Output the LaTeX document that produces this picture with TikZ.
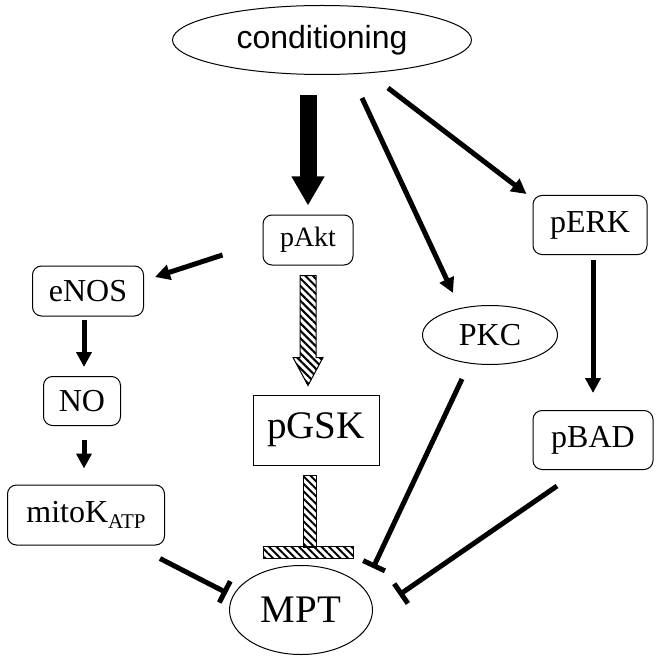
\documentclass[tikz,border=0pt]{standalone}
\usepackage{fontspec}
\setmainfont{Liberation Serif}
\newfontfamily\condfont{Liberation Sans}
\usetikzlibrary{arrows.meta,shapes.geometric,patterns.meta,calc}

\begin{document}
\begin{tikzpicture}[x=1pt, y=-1pt,
  box/.style={draw, line width=1pt, rounded corners=9pt, inner sep=0pt, font=\fontsize{32}{36}\selectfont},
  oval/.style={draw, ellipse, line width=1pt, inner sep=0pt, font=\fontsize{32}{36}\selectfont},
  act/.style={line width=5pt, -{Triangle[length=15pt,width=15pt]}},
  inh/.style={line width=5pt, -{Bar[width=24pt]}},
  hatch/.style={draw, line width=1pt, pattern={Lines[angle=-45,distance=5.3pt,line width=2pt]}}]
  \useasboundingbox (0,0) rectangle (660,660);
  \node[oval, minimum width=299pt, minimum height=69pt, font=\condfont\fontsize{32}{36}\selectfont] (cond) at (322,40) {conditioning};
  \node[box, minimum width=90pt, minimum height=50pt, font=\fontsize{28}{32}\selectfont] (pAkt) at (308,240) {pAkt};
  \node[draw, line width=1pt, inner sep=0pt, minimum width=126pt, minimum height=70pt, font=\fontsize{39}{44}\selectfont] (pGSK) at (316,430) {pGSK};
  \node[oval, minimum width=143pt, minimum height=89pt, font=\fontsize{39}{44}\selectfont] (MPT) at (301,610) {MPT};
  \node[box, minimum width=111pt, minimum height=50pt] (eNOS) at (88,291) {eNOS};
  \node[box, minimum width=77pt, minimum height=49pt] (NO) at (82,401) {NO};
  \node[box, minimum width=157pt, minimum height=60pt] (mitoK) at (86,515) {mitoK\raisebox{-6pt}{\fontsize{21}{24}\selectfont ATP}};
  \node[box, minimum width=114pt, minimum height=59pt] (pERK) at (590,225) {pERK};
  \node[oval, minimum width=135pt, minimum height=59pt] (PKC) at (490,335) {PKC};
  \node[box, minimum width=120pt, minimum height=59pt] (pBAD) at (593,440) {pBAD};

  \draw[line width=17pt, -{Triangle[length=29pt,width=31pt]}] ([shift={(-14,20)}]cond.south) -- ([shift={(0,-9)}]pAkt.north);
  \draw[hatch] ($(pAkt.south)+(-8,10)$) -- ++(16,0) -- ++(0,82) -- ++(7,0) -- ++(-15,28) -- ++(-15,-28) -- ++(7,0) -- cycle;
  \draw[hatch] ($(pGSK.south)+(-13,10)$) rectangle ++(13,72);
  \draw[hatch] ($(MPT.north)+(-38,-19)$) rectangle ++(90,12);

  \draw[act] ([shift={(66,13)}]cond.south) -- ([shift={(-6,-1)}]pERK.north west);
  \draw[act] ([shift={(40,23)}]cond.south) -- ([shift={(-37,-12)}]PKC.north);
  \draw[act] ([shift={(-40,15)}]pAkt.west) -- ([shift={(11,-14)}]eNOS.east);
  \draw[act] ([shift={(-4,3)}]eNOS.south) -- ([shift={(2,-9)}]NO.north);
  \draw[act] ([shift={(2,14)}]NO.south) -- ([shift={(-2,-16)}]mitoK.north);
  \draw[act] ([shift={(3,5)}]pERK.south) -- ([shift={(0,-17)}]pBAD.north);

  \draw[inh] ([shift={(-5,13)}]mitoK.south east) -- ([shift={(-74,-17)}]MPT.center);
  \draw[inh] ([shift={(-28,14)}]PKC.south) -- ([shift={(72,-42)}]MPT.center);
  \draw[inh] ([shift={(-36,16)}]pBAD.south) -- ([shift={(98,-15)}]MPT.center);
\end{tikzpicture}
\end{document}
